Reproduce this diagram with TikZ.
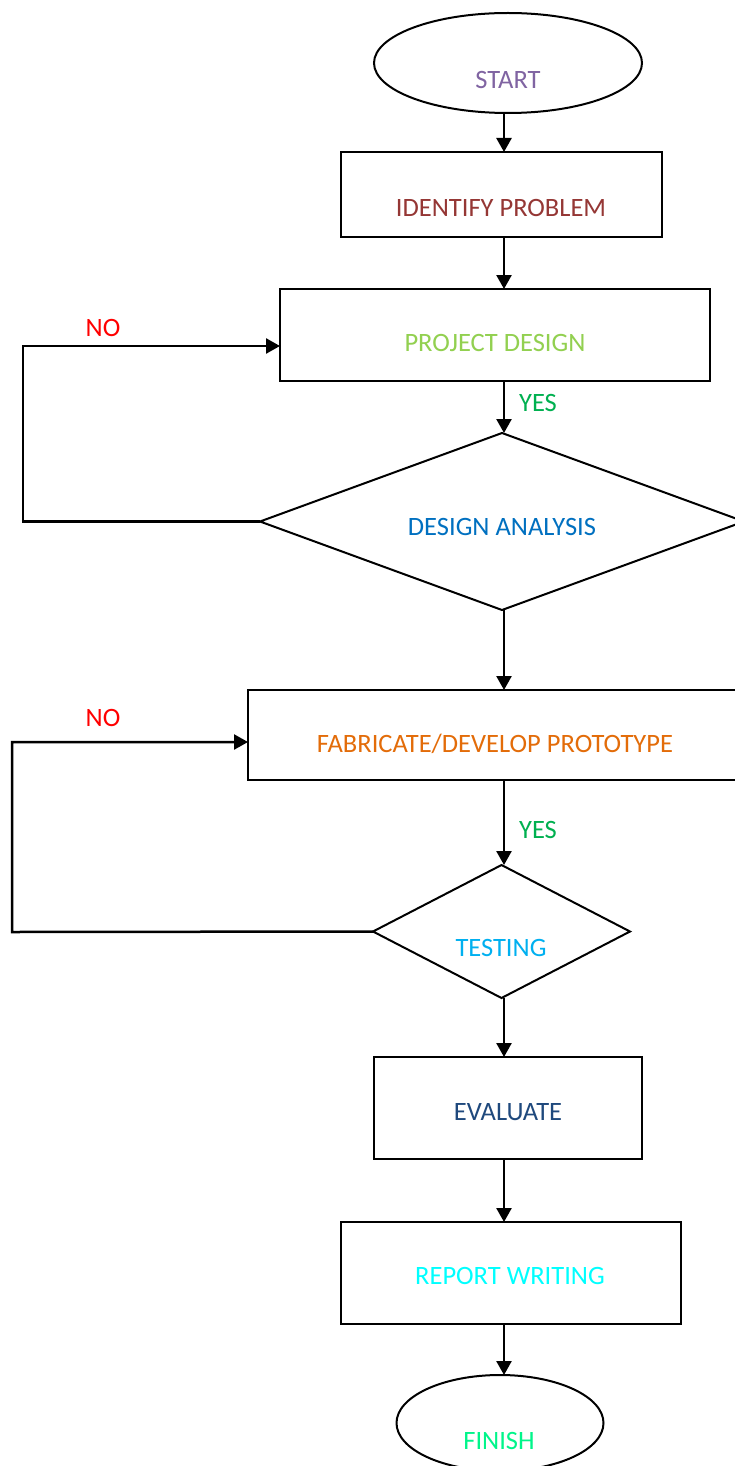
\documentclass[tikz,border=0pt]{standalone}
\usepackage{fontspec}
\setmainfont{Carlito}
\usetikzlibrary{shapes.geometric,arrows.meta}
\definecolor{cstart}{HTML}{8064A2}
\definecolor{cident}{HTML}{953735}
\definecolor{cpd}{HTML}{92D050}
\definecolor{cyes}{HTML}{00B050}
\definecolor{cda}{HTML}{0070C0}
\definecolor{cno}{HTML}{FF0000}
\definecolor{cfab}{HTML}{E36C09}
\definecolor{ctest}{HTML}{00B0F0}
\definecolor{ceval}{HTML}{1F497D}
\definecolor{crep}{HTML}{00FFFF}
\definecolor{cfin}{HTML}{00F58A}
\tikzset{
  box/.style={draw=black,line width=2pt,rectangle,inner sep=0pt,outer sep=0pt},
  oval/.style={draw=black,line width=2pt,ellipse,inner sep=0pt,outer sep=0pt},
  dia/.style={draw=black,line width=2pt,diamond,inner sep=0pt,outer sep=0pt},
  lbl/.style={inner sep=0pt,text height=0.64em,text depth=0pt,font=\fontsize{26.5}{31}\selectfont},
  arr/.style={draw=black,line width=2.5pt,-{Triangle[length=14pt,width=15pt]}},
}
\begin{document}
\begin{tikzpicture}[x=1pt,y=-1pt]
\useasboundingbox (0,0) rectangle (735,1466);
\fill[white] (0,0) rectangle (735,1466);
% shapes
\node[oval,minimum width=268,minimum height=100] (start) at (508,63) {};
\node[box,minimum width=321,minimum height=85] (idp) at (501.5,194.5) {};
\node[box,minimum width=430,minimum height=92] (pd) at (495,335) {};
\node[dia,minimum width=484,minimum height=177] (da) at (502,521.5) {};
\node[box,minimum width=494,minimum height=90] (fab) at (495,735) {};
\node[dia,minimum width=257,minimum height=133] (test) at (501.5,931.5) {};
\node[box,minimum width=268,minimum height=102] (eval) at (508,1108) {};
\node[box,minimum width=340,minimum height=102] (rep) at (511,1273) {};
\node[oval,minimum width=207,minimum height=96] (fin) at (500,1423) {};
% texts
\node[lbl,text=cstart] (tstart) at (508,85) {START};
\node[lbl,text=cident] (tidp) at (501,213) {IDENTIFY PROBLEM};
\node[lbl,text=cpd] (tpd) at (495,348) {PROJECT DESIGN};
\node[lbl,text=cda] (tda) at (502,532) {DESIGN ANALYSIS};
\node[lbl,text=cfab] (tfab) at (495,749) {FABRICATE/DEVELOP PROTOTYPE};
\node[lbl,text=ctest] (ttest) at (501,953) {TESTING};
\node[lbl,text=ceval] (teval) at (508,1117) {EVALUATE};
\node[lbl,text=crep] (trep) at (510,1281) {REPORT WRITING};
\node[lbl,text=cfin] (tfin) at (499,1446) {FINISH};
\node[lbl,text=cyes] (yes1) at (538,408) {YES};
\node[lbl,text=cyes] (yes2) at (538,835) {YES};
\node[lbl,text=cno] (no1) at (103,333) {NO};
\node[lbl,text=cno] (no2) at (103,723) {NO};
% connectors
\coordinate (col) at (504,0);
\draw[arr] (start.south -| col) -- (idp.north -| col);
\draw[arr] (idp.south -| col) -- (pd.north -| col);
\draw[arr] (pd.south -| col) -- (da.north -| col);
\draw[arr] (da.south -| col) -- (fab.north -| col);
\draw[arr] (fab.south -| col) -- (test.north -| col);
\draw[arr] (test.south -| col) -- (eval.north -| col);
\draw[arr] (eval.south -| col) -- (rep.north -| col);
\draw[arr] (rep.south -| col) -- (fin.north -| col);
\coordinate (loop1) at (23,521.5);
\coordinate (loop2) at (12,932);
\draw[arr] (da.west) -- (loop1) |- ([yshift=-11pt]pd.west);
\draw[arr] (test.west) -- (loop2) |- ([yshift=-7pt]fab.west);
\end{tikzpicture}
\end{document}
